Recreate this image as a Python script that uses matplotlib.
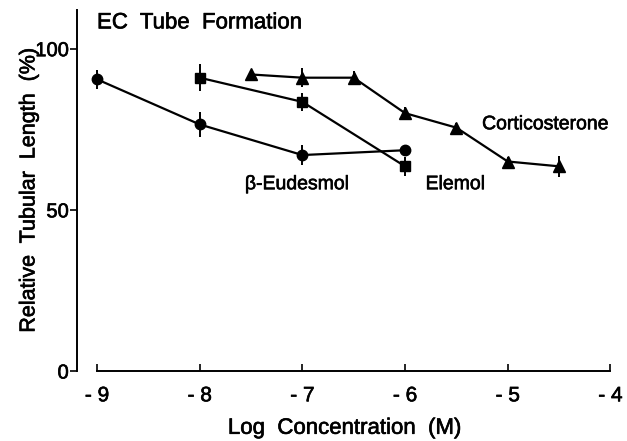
import matplotlib.pyplot as plt
import matplotlib.patheffects as pe

plt.rcParams['font.family'] = ['Liberation Sans', 'DejaVu Sans']

# beta-Eudesmol (circles)
eud_x = [-9, -8, -7, -6]
eud_y = [90.5, 76.5, 67.0, 68.5]
eud_err = [3.0, 4.0, 3.2, 1.5]

# Elemol (squares)
ele_x = [-8, -7, -6]
ele_y = [91.0, 83.5, 63.5]
ele_err = [4.2, 2.7, 3.0]

# Corticosterone (triangles)
cort_x = [-7.5, -7, -6.5, -6, -5.5, -5, -4.5]
cort_y = [92.0, 91.0, 91.0, 80.0, 75.5, 65.0, 63.5]
cort_err = [1.5, 3.0, 2.0, 2.0, 1.5, 1.5, 3.2]

xticks = [-9, -8, -7, -6, -5, -4]
xtick_labels = ["- 9", "- 8", "- 7", "- 6", "- 5", "- 4"]
yticks = [0, 50, 100]

# thicken text a little, like the printed original
heavy = [pe.withStroke(linewidth=0.45, foreground="black")]

fig = plt.figure(figsize=(6.27, 4.41), dpi=100)
ax = fig.add_axes([0.1228, 0.1587, 0.854, 0.8186])

style = dict(color="black", linewidth=1.6, elinewidth=1.4, capsize=0)
ax.errorbar(eud_x, eud_y, yerr=eud_err, fmt="-o", markersize=7.5, **style)
ax.errorbar(ele_x, ele_y, yerr=ele_err, fmt="-s", markersize=6.5, **style)
ax.errorbar(cort_x, cort_y, yerr=cort_err, fmt="-^", markersize=8.5, **style)

ax.set_xlim(-9.195, -3.98)
ax.set_ylim(0, 112)

ax.spines["top"].set_visible(False)
ax.spines["right"].set_visible(False)
ax.spines["bottom"].set_bounds(-9, -4)
ax.spines["left"].set_linewidth(1.4)
ax.spines["bottom"].set_linewidth(1.4)

ax.set_xticks(xticks)
ax.set_xticklabels(xtick_labels)
ax.set_yticks(yticks)
ax.tick_params(axis="x", direction="in", length=5, width=1.2, labelsize=15, pad=11)
ax.tick_params(axis="y", direction="out", length=5, width=1.2, labelsize=14.5, pad=1)
for lbl in ax.get_xticklabels() + ax.get_yticklabels():
    lbl.set_path_effects(heavy)

xl = ax.set_xlabel("Log  Concentration  (M)", fontsize=16, labelpad=9)
yl = ax.set_ylabel("Relative  Tubular  Length  (%)", fontsize=15.5, labelpad=-3)
xl.set_path_effects(heavy)
yl.set_path_effects(heavy)

notes = [
    (-9.0, 108, "EC  Tube  Formation", 16),
    (-5.25, 76.4, "Corticosterone", 14),
    (-5.80, 57.8, "Elemol", 14),
    (-7.56, 57.8, "β-Eudesmol", 14),
]
for x, y, s, size in notes:
    t = ax.text(x, y, s, fontsize=size, va="center", ha="left")
    t.set_path_effects(heavy)

fig.savefig("out.png", dpi=100)
